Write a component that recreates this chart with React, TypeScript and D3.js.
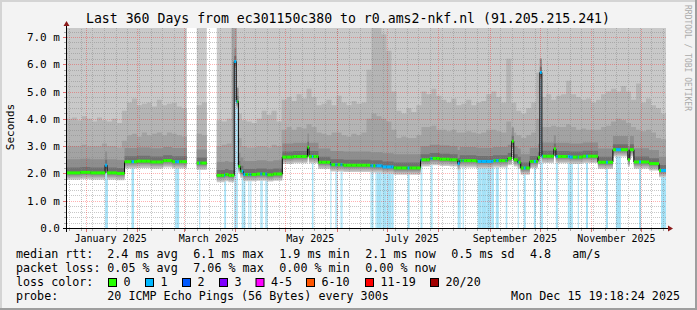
import React from 'react';
import * as d3 from 'd3';

// ---------- data ----------
const START = Date.UTC(2024, 11, 20, 19, 18, 24); // window start (local time treated as UTC)
const DAYS = 360;
const DAY = 864e5;

// median rtt (ms) as steps: [day offset from start, value]; null = no data
const medianSteps: [number, number | null][] = [
  [0, 2.02], [8, 2.04], [14, 2.02], [22.9, 2.3], [24.1, 2.02], [30, 2.0], [34.6, 2.43], [42, 2.45],
  [50, 2.42], [57.8, 2.47], [63.2, 2.43], [72, null], [78, 2.38], [84, null], [90, 1.93], [95, 1.96],
  [97, 1.93], [100.5, 6.1], [101.7, 4.64], [103, 2.26], [104.2, 2.08], [106, 1.96], [114, 1.98],
  [120, 1.95], [124, 1.98], [129.4, 2.6], [136, 2.62], [144.5, 2.96], [145.4, 2.62], [151.1, 2.41],
  [158.3, 2.32], [166.2, 2.3], [182.4, 2.28], [189.6, 2.24], [196.3, 2.2], [212.5, 2.5], [218, 2.55],
  [224, 2.52], [230, 2.5], [234.8, 2.36], [236, 2.47], [246, 2.44], [256, 2.47], [264.9, 2.55],
  [267.3, 3.18], [268.5, 2.5], [270.9, 2.41], [272.7, 2.2], [278.1, 2.44], [283, 2.59], [284.2, 5.7],
  [285.4, 2.63], [292.6, 2.9], [293.8, 2.62], [302, 2.6], [310, 2.63], [319.1, 2.41], [328.1, 2.87],
  [337.1, 2.5], [338.3, 2.87], [340.7, 2.42], [349.8, 2.36], [355.8, 2.11],
];

// smoke: top of the outer (mid-grey) band, per 3-day bucket (ms)
const smokeOuter: (number | null)[] = [
  4.0, 4.05, 3.95, 4.1, 4.0, 3.9, 4.05, 3.95, 3.9, 4.0,
  3.85, 4.3, 4.6, 4.75, 4.5, 4.55, 4.6, 4.45, 4.7, 4.5,
  4.55, 4.6, 4.45, 4.4, null, null, 4.5, 4.6, null, null,
  3.95, 3.9, 4.0, 7.4, 4.2, 3.95, 3.9, 3.85, 4.0, 4.3,
  4.15, 4.3, 3.9, 4.7, 4.8, 4.65, 4.9, 4.75, 5.1, 4.8,
  4.5, 4.55, 4.7, 4.5, 4.85, 4.6, 4.5, 4.65, 4.55, 4.6,
  5.8, 7.4, 7.4, 7.1, 6.5, 5.0, 4.3, 4.2, 4.4, 4.25,
  4.5, 5.0, 4.9, 5.1, 4.85, 4.7, 4.6, 4.75, 4.5, 4.55,
  4.7, 4.5, 4.6, 4.65, 4.9, 5.0, 4.8, 4.6, 6.2, 4.6,
  4.3, 4.2, 4.4, 4.6, 5.7, 4.8, 4.9, 4.7, 4.85, 4.9,
  5.4, 4.9, 4.8, 4.7, 4.75, 4.6, 4.7, 4.9, 5.0, 5.1,
  5.0, 5.2, 5.0, 4.7, 5.3, 4.6, 4.75, 4.5, 4.4, 4.2,
];

// smoke: top of the inner (darker) band, per 3-day bucket (ms)
const smokeInner: (number | null)[] = [
  3.0, 3.0, 3.0, 3.05, 3.0, 3.0, 3.0, 3.1, 3.0, 3.0,
  2.95, 3.2, 3.4, 3.45, 3.35, 3.5, 3.4, 3.45, 3.5, 3.4,
  3.5, 3.45, 3.4, 3.35, null, null, 3.45, 3.4, null, null,
  3.0, 3.05, 3.1, 7.4, 3.3, 3.0, 2.95, 2.95, 3.0, 3.0,
  2.95, 3.05, 3.0, 3.6, 3.7, 3.6, 3.7, 3.65, 3.8, 3.7,
  3.5, 3.45, 3.4, 3.5, 3.5, 3.4, 3.35, 3.45, 3.4, 3.5,
  4.0, 4.2, 4.1, 4.0, 3.9, 3.6, 3.3, 3.35, 3.3, 3.3,
  3.4, 3.7, 3.7, 3.75, 3.6, 3.6, 3.55, 3.6, 3.5, 3.5,
  3.55, 3.5, 3.45, 3.5, 3.6, 3.6, 3.55, 3.5, 3.9, 3.5,
  3.4, 3.3, 3.4, 3.5, 4.0, 3.7, 3.7, 3.75, 3.7, 3.7,
  3.8, 3.7, 3.6, 3.65, 3.6, 3.6, 3.6, 3.7, 3.75, 3.9,
  4.0, 3.95, 3.85, 3.7, 3.6, 3.55, 3.6, 3.5, 3.3, 3.25,
];

// spread of the smoke around the median (ms): inner bands above, all bands below
const innerAbove = [0.5, 0.2];
const spreadBelow = [0.25, 0.2, 0.15, 0.1, 0.05];

// periods with 1/20 packet loss: [start day, end day]
const lossRanges: [number, number][] = [
  [22.9, 24.1], [38.8, 40.3], [65, 67.4], [79.5, 80.1], [94.5, 95.1], [100.5, 102.4], [105, 107.2],
  [109, 109.6], [110.2, 110.8], [116.2, 117.4], [119.2, 120.4], [147.2, 148.1], [158.3, 158.9],
  [161.3, 162.6], [164.4, 165.6], [182.4, 184.2], [185.4, 196.3], [204.7, 205.9], [212.5, 213.1],
  [218.5, 219.7], [234.8, 236.6], [237.8, 238.4], [246.8, 256.5], [257.7, 259.5], [263.7, 264.3],
  [270.9, 271.5], [274.5, 275.7], [280.6, 281.8], [284.2, 286], [293.8, 295], [301, 304],
  [307, 307.6], [311.9, 313.1], [323.9, 325.1], [329.9, 332.9], [343.8, 345], [357, 360],
];

const lossLabels = ['0', '1', '2', '3', '4-5', '6-10', '11-19', '20/20'];
const lossColors = ['#26ff00', '#00b8ff', '#0059ff', '#7e00ff', '#ff00ff', '#ff5500', '#ff0000', '#a10000'];
const lossBoxX = [108.5, 145.5, 182.5, 219.5, 256, 306.5, 365.5, 430.5];

const yTicks = [0, 1, 2, 3, 4, 5, 6, 7];
const monthLabels = ['January 2025', 'March 2025', 'May 2025', 'July 2025', 'September 2025', 'November 2025'];
const monthLabelDates = [Date.UTC(2025, 0, 16), Date.UTC(2025, 2, 16), Date.UTC(2025, 4, 16), Date.UTC(2025, 6, 16), Date.UTC(2025, 8, 16), Date.UTC(2025, 10, 16)];

const rttStats = ['2.4 ms avg', '6.1 ms max', '1.9 ms min', '2.1 ms now', '0.5 ms sd'];
const lossStats = ['0.05 % avg', '7.06 % max', '0.00 % min', '0.00 % now'];
const ampsValue = '4.8';
const ampsUnit = 'am/s';

// ---------- layout ----------
const W = 697, H = 310;
const X0 = 67, X1 = 666, Y0 = 228, YT = 28, YMAX = 7.33;
const FONT = "'DejaVu Sans Mono', monospace";
const SMOKE = ['#c9c9c9', '#b5b5b5', '#a3a3a3', '#8e8e8e', '#707070'];
const GRID_MINOR = 'rgba(130,130,130,0.45)';
const GRID_MAJOR = 'rgba(255,0,0,0.3)';

// dotted line helper: one 1px dot every 2px, on a checkerboard phase
function dots(x1: number, y1: number, x2: number, y2: number) {
  let d = '';
  if (x1 === x2) {
    const s = Math.ceil(Math.min(y1, y2));
    const y0 = s + ((s + x1) % 2 === 0 ? 0 : 1);
    for (let yy = y0; yy < Math.max(y1, y2); yy += 2) d += `M${x1},${yy}h1v1h-1z`;
  } else {
    const s = Math.ceil(Math.min(x1, x2));
    const x0 = s + ((s + y1) % 2 === 0 ? 0 : 1);
    for (let xx = x0; xx < Math.max(x1, x2); xx += 2) d += `M${xx},${y1}h1v1h-1z`;
  }
  return d;
}

export default function App() {
  const x = d3.scaleUtc().domain([new Date(START), new Date(START + DAYS * DAY)]).range([X0, X1]);
  const xd = (d: number) => x(new Date(START + d * DAY));
  const y = d3.scaleLinear().domain([0, YMAX]).range([Y0, YT]);
  const bucket = DAYS / smokeOuter.length;

  const bset = new Set<number>([0, DAYS]);
  medianSteps.forEach(([d]) => bset.add(d));
  smokeOuter.forEach((_, i) => bset.add(i * bucket));
  lossRanges.forEach(([a, b]) => { bset.add(a); bset.add(b); });
  const bounds = [...bset].filter((d) => d >= 0 && d <= DAYS).sort((a, b) => a - b);
  const medianAt = (d: number) => {
    let v: number | null = null;
    for (const [sd, sv] of medianSteps) { if (sd <= d + 1e-9) v = sv; else break; }
    return v;
  };

  type Iv = { a: number; b: number; m: number; hi: number[]; lo: number[]; loss: boolean };
  const ivs: (Iv | null)[] = [];
  for (let i = 0; i < bounds.length - 1; i++) {
    const a = bounds[i], b = bounds[i + 1];
    const mid = (a + b) / 2;
    const m = medianAt(a);
    const k = Math.min(smokeOuter.length - 1, Math.floor(mid / bucket));
    const u2 = smokeOuter[k], u3 = smokeInner[k];
    if (m == null || u2 == null || u3 == null) { ivs.push(null); continue; }
    const h4 = m + innerAbove[1];
    const h3 = m + innerAbove[0];
    const h2 = Math.max(u3, h3);
    const h1 = Math.max(u2, h2);
    const h0 = YMAX + 1;
    const loss = lossRanges.some(([la, lb]) => mid >= la && mid <= lb);
    ivs.push({ a, b, m, hi: [h0, h1, h2, h3, h4], lo: spreadBelow.map((s) => m - s), loss });
  }

  const bandPaths = SMOKE.map((_, bi) => {
    const pts: ({ d: number; lo: number; hi: number } | null)[] = [];
    ivs.forEach((iv, i) => {
      if (!iv) { pts.push(null); return; }
      pts.push({ d: iv.a, lo: iv.lo[bi], hi: iv.hi[bi] });
      const next = ivs[i + 1];
      if (!next) pts.push({ d: iv.b, lo: iv.lo[bi], hi: iv.hi[bi] });
    });
    const area = d3.area<any>()
      .defined((p) => p != null)
      .x((p) => xd(p.d))
      .y0((p) => y(p.lo))
      .y1((p) => y(p.hi))
      .curve(d3.curveStepAfter);
    return area(pts as any) || '';
  });

  const mpts: ([number, number] | null)[] = [];
  ivs.forEach((iv) => {
    if (!iv) { mpts.push(null); return; }
    mpts.push([iv.a, iv.m], [iv.b, iv.m]);
  });
  const medLine = d3.line<any>().defined((p) => p != null).x((p) => xd(p[0])).y((p) => y(p[1]))(mpts as any) || '';

  const start = new Date(START), end = new Date(START + DAYS * DAY);
  const weeks = d3.utcSunday.range(start, end);
  const months = d3.utcMonth.range(start, end);
  const minorY: number[] = [];
  for (let v = 0.2; v < YMAX; v += 0.2) {
    const r = Math.round(v * 10) / 10;
    if (Math.abs(r - Math.round(r)) > 1e-6) minorY.push(r);
  }
  const py = (v: number) => Math.round(y(v));
  const px = (t: Date) => Math.round(x(t));

  let minorPath = '';
  minorY.forEach((v) => { minorPath += dots(X0, py(v), X1, py(v)); });
  weeks.forEach((w) => { minorPath += dots(px(w), YT, px(w), Y0); });
  let majorPath = '';
  yTicks.filter((v) => v > 0).forEach((v) => { majorPath += dots(X0, py(v), X1, py(v)); });
  months.forEach((mo) => { majorPath += dots(px(mo), YT, px(mo), Y0); });

  const txt = { fontFamily: FONT, fill: '#000' } as const;

  return (
    <svg width={W} height={H} style={{ position: 'absolute', left: 0, top: 0 }} xmlns="http://www.w3.org/2000/svg">
      <defs>
        <clipPath id="plot"><rect x={X0} y={YT} width={X1 - X0} height={Y0 - YT} /></clipPath>
      </defs>
      <rect x={0} y={0} width={W} height={H} fill="#f3f3f3" />
      <line x1={0} y1={1} x2={W} y2={1} stroke="#d4d4d4" strokeWidth={2} />
      <line x1={1} y1={0} x2={1} y2={H} stroke="#d4d4d4" strokeWidth={2} />
      <line x1={0} y1={H - 1} x2={W} y2={H - 1} stroke="#9e9e9e" strokeWidth={2} />
      <line x1={W - 1} y1={0} x2={W - 1} y2={H} stroke="#9e9e9e" strokeWidth={2} />

      <text x={348} y={23} textAnchor="middle" style={{ ...txt, fontSize: 13.2 }}>
        Last 360 Days from ec301150c380 to r0.ams2-nkf.nl (91.205.215.241)
      </text>

      <rect x={X0} y={YT} width={X1 - X0} height={Y0 - YT} fill="#ffffff" />

      <g clipPath="url(#plot)">
        {ivs.map((iv, i) => iv && iv.loss ? (
          <rect key={'lb' + i} x={xd(iv.a)} y={y(iv.m)} width={Math.max(1, xd(iv.b) - xd(iv.a))} height={Y0 - y(iv.m)} fill="#a6e2f7" />
        ) : null)}
        {bandPaths.map((p, i) => <path key={'band' + i} d={p} fill={SMOKE[i]} />)}
      </g>

      {/* grid */}
      <path d={minorPath} fill={GRID_MINOR} shapeRendering="crispEdges" />
      <path d={majorPath} fill={GRID_MAJOR} shapeRendering="crispEdges" />
      <g shapeRendering="crispEdges">
        {minorY.map((v) => <rect key={'mty' + v} x={X0 - 3} y={py(v)} width={2} height={1} fill="#aaa" />)}
        {yTicks.map((v) => <rect key={'Mty' + v} x={X0 - 4} y={py(v)} width={3} height={1} fill="#e07070" />)}
        {weeks.map((w) => <rect key={'wtx' + +w} x={px(w)} y={Y0 + 1} width={1} height={2} fill="#aaa" />)}
        {months.map((mo) => <rect key={'Mtx' + +mo} x={px(mo)} y={Y0 + 1} width={1} height={3} fill="#e07070" />)}
      </g>

      {/* median */}
      <g clipPath="url(#plot)">
        <path d={medLine} fill="none" stroke="#000" strokeWidth={1} />
        {ivs.map((iv, i) => iv ? (
          <rect key={'md' + i} x={xd(iv.a)} y={y(iv.m) - 1.5} width={xd(iv.b) - xd(iv.a)} height={3} fill={iv.loss ? lossColors[1] : lossColors[0]} />
        ) : null)}
      </g>

      {/* axes */}
      <g shapeRendering="crispEdges">
        <rect x={X0 - 1} y={YT - 4} width={1} height={Y0 - YT + 8} fill="#000" />
        <rect x={X0 - 4} y={Y0} width={X1 - X0 + 8} height={1} fill="#000" />
      </g>
      <path d={`M${X0 - 3.5},${YT - 2} L${X0 + 2.5},${YT - 2} L${X0 - 0.5},${YT - 7} Z`} fill="#8b1a1a" />
      <path d={`M${X1 + 2},${Y0 - 2.5} L${X1 + 2},${Y0 + 3.5} L${X1 + 7},${Y0 + 0.5} Z`} fill="#8b1a1a" />

      {yTicks.map((v) => (
        <text key={'yl' + v} x={60} y={y(v) + 4} textAnchor="end" style={{ ...txt, fontSize: 11, whiteSpace: 'pre' }}>
          {v === 0 ? '0.0' : `${v.toFixed(1)} m`}
        </text>
      ))}
      <text transform={`translate(14,127) rotate(-90)`} textAnchor="middle" style={{ ...txt, fontSize: 11 }}>Seconds</text>

      {monthLabels.map((l, i) => (
        <text key={l} x={x(new Date(monthLabelDates[i]))} y={242} textAnchor="middle" style={{ ...txt, fontSize: 10 }}>{l}</text>
      ))}

      <g style={{ ...txt, fontSize: 11.7, whiteSpace: 'pre' }}>
        <text x={16} y={258}>median rtt:</text>
        {rttStats.map((s, i) => <text key={s} x={107.3 + 86 * i} y={258}>{s}</text>)}
        <text x={530} y={258}>{ampsValue}</text>
        <text x={572.3} y={258}>{ampsUnit}</text>
        <text x={16} y={272}>packet loss:</text>
        {lossStats.map((s, i) => <text key={s} x={107.3 + 86 * i} y={272}>{s}</text>)}
        <text x={16} y={286}>loss color:</text>
        {lossLabels.map((l, i) => (
          <g key={l}>
            <rect x={lossBoxX[i]} y={278.5} width={8} height={8} fill={lossColors[i]} stroke="#000" strokeWidth={1} />
            <text x={lossBoxX[i] + 15} y={286}>{l}</text>
          </g>
        ))}
        <text x={16} y={300}>probe:</text>
        <text x={107.3} y={300}>20 ICMP Echo Pings (56 Bytes) every 300s</text>
        <text x={680} y={300} textAnchor="end">Mon Dec 15 19:18:24 2025</text>
      </g>

      <text transform="translate(685,5) rotate(90)" style={{ fontFamily: FONT, fontSize: 8, fill: '#aaaaaa' }}>RRDTOOL / TOBI OETIKER</text>
    </svg>
  );
}
